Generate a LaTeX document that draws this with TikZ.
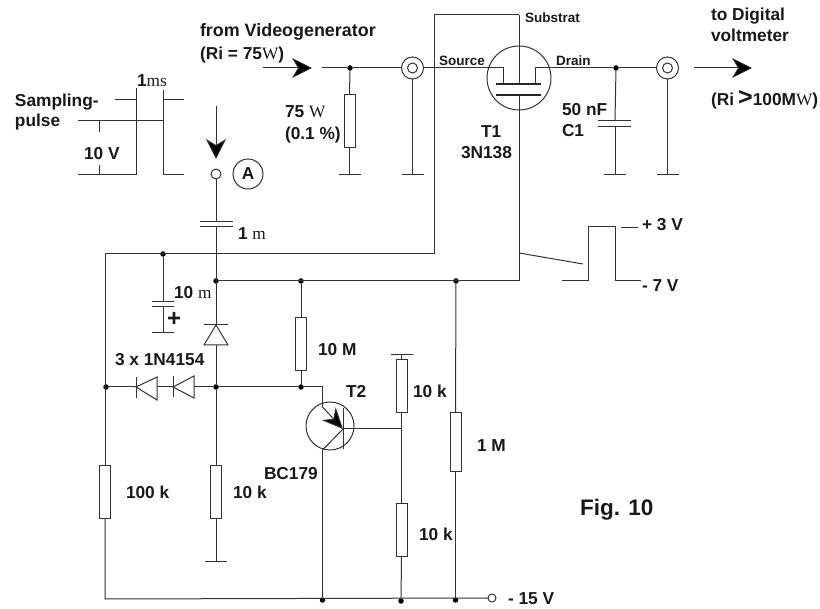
\documentclass[tikz,border=0pt]{standalone}
\usepackage{fontspec}
\setmainfont{Liberation Sans}
\newfontfamily\serifpart{Liberation Serif}
\usetikzlibrary{arrows.meta}
\newcommand{\sy}[1]{{\mdseries\serifpart #1}}
\tikzset{
  wire/.style={line width=1pt,draw=black!80},
  res/.style={draw=black!80,line width=1pt,rectangle,fill=white,minimum width=11pt,minimum height=53pt,inner sep=0pt,outer sep=0pt},
  jdot/.style={circle,fill=black,minimum size=5.5pt,inner sep=0pt,outer sep=0pt},
  ring/.style={circle,draw=black!80,line width=1pt,inner sep=0pt,outer sep=0pt},
  lbl/.style={anchor=base west,inner sep=0pt,outer sep=0pt,font=\fontsize{17.3}{20}\selectfont\bfseries,text=black!90},
  sml/.style={lbl,font=\fontsize{13.5}{16}\selectfont\bfseries},
  big/.style={line width=1pt,draw=black!80,-{Stealth[length=20pt,width=20pt,inset=6pt,fill=black]}},
  plate/.style={line width=1pt,draw=black!80},
  fat/.style={line width=2.2pt,draw=black!85},
}
\begin{document}
\begin{tikzpicture}[x=1pt,y=-1pt]
\useasboundingbox (0,0) rectangle (820,609);
% ---- junctions
\node[jdot] (jin) at (350,68) {};
\node[jdot] (jout) at (616,68) {};
\node[jdot] (jc) at (163,254) {};
\node[jdot] (j1) at (216,281) {};
\node[jdot] (j2) at (301,281) {};
\node[jdot] (j3) at (456,281) {};
\node[jdot] (j4) at (106,387) {};
\node[jdot] (j5) at (216,387) {};
\node[jdot] (j6) at (301,387) {};
\node[jdot] (j7) at (322.5,600) {};
\node[jdot] (j8) at (401,601) {};
\node[jdot] (j9) at (455.5,600) {};
\coordinate (rail) at (519,281);
\coordinate (lc) at (105,254);
\coordinate (lb) at (105,599);
% ---- terminals and components
\node[ring,minimum size=10pt] (ta) at (216,174) {};
\node[ring,minimum size=30pt] (ca) at (248,174) {};
\node[ring,minimum size=8pt] (tm) at (492,598) {};
\node[ring,minimum size=22pt] (cx1) at (412.5,68) {};
\node[ring,minimum size=10pt] (cx1i) at (412.5,68) {};
\node[ring,minimum size=22pt] (cx2) at (667.5,68) {};
\node[ring,minimum size=10pt] (cx2i) at (667.5,68) {};
\node[ring,minimum size=64pt] (t1) at (519,78) {};
\node[ring,minimum size=48pt] (t2) at (330,426) {};
\node[res] (r75) at (349.5,121.5) {};
\node[res] (r10m) at (301,344) {};
\node[res] (r10a) at (401.5,386.5) {};
\node[res] (r10b) at (401.5,530) {};
\node[res,minimum height=59pt] (r1m) at (455.5,442.5) {};
\node[res] (r100) at (105,492.5) {};
\node[res] (r10c) at (216,492.5) {};
% ---- named points
\coordinate (g1) at (349.5,175);
\coordinate (g2) at (412.5,175);
\coordinate (g3) at (615,175);
\coordinate (g4) at (667.5,175);
\coordinate (g5) at (216,562);
\coordinate (g6) at (401.5,355);
\coordinate (c1t) at (216,222);
\coordinate (c1b) at (216,227);
\coordinate (c2t) at (163,302);
\coordinate (c2b) at (163,307);
\coordinate (c2e) at (163,333);
\coordinate (c3t) at (615,121);
\coordinate (c3b) at (615,127);
\coordinate (dc) at (216,325);
\coordinate (da) at (216,345);
\coordinate (d1c) at (136,387);
\coordinate (d1a) at (157,387);
\coordinate (d2c) at (173,387);
\coordinate (d2a) at (194,387);
\coordinate (gateT) at (519,84);
\coordinate (gateB) at (519,95);
\coordinate (subT) at (519,15);
\coordinate (srcD) at (503,84);
\coordinate (drnD) at (535,84);
\coordinate (srcU) at (503,68);
\coordinate (drnU) at (535,68);
\coordinate (boxL) at (434,15);
\coordinate (boxB) at (434,254);
\coordinate (tb) at (343,429);
\coordinate (tc) at (322.5,407);
\coordinate (te) at (322.5,450);
\coordinate (tn) at (322.5,387);
\coordinate (bj) at (401.5,429);
\coordinate (a1) at (263,68);
\coordinate (a2) at (312,68);
\coordinate (a3) at (322,68);
\coordinate (a4) at (694,68);
\coordinate (a5) at (752,68);
\coordinate (a6) at (216,106);
\coordinate (a7) at (216,159);
% ---- wires
\draw[big] (a1) -- (a2);
\draw[big] (a4) -- (a5);
\draw[big] (a6) -- (a7);
\draw[wire] (a3) -- (jin) -- (cx1.west);
\draw[wire] (cx1.east) -- (srcU) -- (srcD);
\draw[wire] (drnD) -- (drnU) -- (jout) -- (cx2.west);
\draw[wire] (jin) -- (r75.north);
\draw[wire] (r75.south) -- (g1);
\draw[wire] (cx1.south) -- (g2);
\draw[wire] (cx2.south) -- (g4);
\draw[wire] (jout) -- (c3t);
\draw[wire] (c3b) -- (g3);
\draw[wire] (ta.south) -- (c1t);
\draw[wire] (c1b) -- (dc);
\draw[wire] (da) -- (j5);
\draw[wire] (subT) -- (gateT);
\draw[wire] (gateB) -- (rail) -- (j1);
\draw[wire] (subT) -- (boxL) -- (boxB) -- (lc) -- (r100.north);
\draw[wire] (r100.south) -- (lb) -- (tm.west);
\draw[wire] (jc) -- (c2t);
\draw[wire] (c2b) -- (c2e);
\draw[wire] (j2) -- (r10m.north);
\draw[wire] (r10m.south) -- (j6);
\draw[wire] (j3) -- (r1m.north);
\draw[wire] (r1m.south) -- (j9);
\draw[wire] (j4) -- (d1c);
\draw[wire] (d1a) -- (d2c);
\draw[wire] (d2a) -- (j5) -- (j6) -- (tn) -- (tc);
\draw[wire] (j5) -- (r10c.north);
\draw[wire] (r10c.south) -- (g5);
\draw[wire] (te) -- (j7);
\draw[wire] (tb) -- (te);
\draw[wire] (tb) -- (bj);
\draw[wire] (g6) -- (r10a.north);
\draw[wire] (r10a.south) -- (r10b.north);
\draw[wire] (r10b.south) -- (j8);
\draw[wire,-{Stealth[length=21pt,width=19pt,inset=7pt,fill=black]}] (tc) -- (tb);
% ---- MOSFET and transistor bars
\draw[fat] (496,84) -- (541,84);
\draw[fat] (496,95) -- (541,95);
\draw[wire] (343,408) -- (343,449);
% ---- capacitors and ground bars
\foreach \a/\l/\r in {c1t/16/17,c1b/16/17,c3t/17/16,c3b/17/16}{
  \draw[plate] ([xshift=-\l pt]\a) -- ([xshift=\r pt]\a);}
\foreach \a/\w in {c2t/11,c2b/11,c2e/11,g1/11,g2/11,g3/11,g4/11,g5/11,g6/11}{
  \draw[plate] ([xshift=-\w pt]\a) -- ([xshift=\w pt]\a);}
% ---- diodes
\draw[wire] (204,345) -- (dc) -- (228,345) -- cycle;
\draw[wire] (204,324.5) -- (228,324.5);
\draw[wire] (d1c) -- (157,377) -- (157,400) -- cycle;
\draw[wire] (136,377) -- (136,398);
\draw[wire] (d2c) -- (194,376) -- (194,398) -- cycle;
\draw[wire] (173,376) -- (173,397);
% ---- pulses
\draw[wire] (115,100) -- (136.5,100);
\draw[wire] (136.5,88) -- (136.5,175) -- (78,175);
\draw[wire] (78,121) -- (163,121);
\draw[wire] (163,90) -- (163,175) -- (184,175);
\draw[wire] (163,100) -- (184,100);
\draw[wire] (99,121) -- (99,132);
\draw[wire] (99,165) -- (99,175);
\draw[wire] (519,253) -- (583,264);
\draw[wire] (562,281) -- (588,281) -- (588,227) -- (615,227) -- (615,281) -- (641,281);
\draw[wire] (621,228) -- (638,228);
% ---- labels
\node[lbl] (l1) at (15,107) {Sampling-};
\node[lbl] (l2) at (15,127) {pulse};
\node[lbl] (l3) at (84,160) {10 V};
\node[lbl] (l4) at (137,87) {1\sy{ms}};
\node[lbl,font=\fontsize{17.9}{20}\selectfont\bfseries] (l5) at (200,37) {from Videogenerator};
\node[lbl] (l6) at (200,60) {(Ri = 75\sy{W})};
\node[lbl] (l7) at (285,118) {75 \sy{W}};
\node[lbl] (l8) at (285,140) {(0.1 \%)};
\node[sml] (l9) at (439,66) {Source};
\node[sml] (l10) at (525,23) {Substrat};
\node[sml] (l11) at (556,66) {Drain};
\node[lbl] (l12) at (481,138) {T1};
\node[lbl] (l13) at (461,159) {3N138};
\node[lbl] (l14) at (562,116) {50 nF};
\node[lbl] (l15) at (562,137) {C1};
\node[lbl] (l16) at (711,21) {to Digital};
\node[lbl] (l17) at (711,42) {voltmeter};
\node[lbl] (l18) at (711,106) {(Ri{\fontsize{25}{25}\selectfont\,>}100M\sy{W})};
\node[lbl,anchor=center] (l19) at (ca.center) {A};
\node[lbl] (l20) at (238,240) {1 \sy{m}};
\node[lbl] (l21) at (174,299) {10 \sy{m}};
\node[lbl,font=\fontsize{24}{26}\selectfont\bfseries] (l22) at (167,327) {+};
\node[lbl] (l23) at (115,366) {3 x 1N4154};
\node[lbl] (l24) at (318,356) {10 M};
\node[lbl] (l25) at (346,398) {T2};
\node[lbl] (l26) at (413,398) {10 k};
\node[lbl] (l27) at (477,452) {1 M};
\node[lbl] (l28) at (264,480) {BC179};
\node[lbl] (l29) at (126,499) {100 k};
\node[lbl] (l30) at (233,499) {10 k};
\node[lbl] (l31) at (419,541) {10 k};
\node[lbl,font=\fontsize{22.5}{26}\selectfont\bfseries] (l32) at (580,516) {Fig. 10};
\node[lbl] (l33) at (508,604.5) {- 15 V};
\node[lbl] (l34) at (642,231) {+ 3 V};
\node[lbl] (l35) at (642,292) {- 7 V};
\end{tikzpicture}
\end{document}
